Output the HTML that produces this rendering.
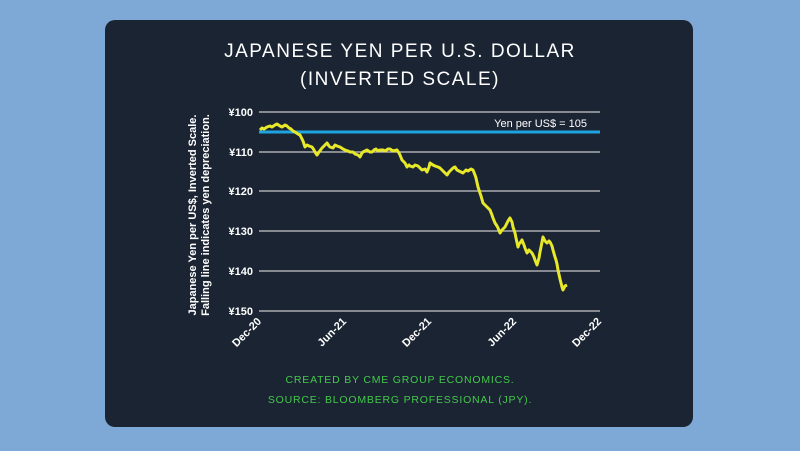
<!DOCTYPE html>
<html><head><style>
body{margin:0;width:800px;height:451px;background:#7ea8d6;overflow:hidden;font-family:"Liberation Sans",sans-serif}
.card{position:absolute;left:105px;top:20px;width:588px;height:407px;background:#1b2433;border-radius:10px}
</style></head><body>
<div class="card"></div>
<svg width="800" height="451" style="position:absolute;left:0;top:0">
<text x="400" y="57" fill="#fff" font-size="19" text-anchor="middle" letter-spacing="1.5">JAPANESE YEN PER U.S. DOLLAR</text>
<text x="400" y="85" fill="#fff" font-size="19" text-anchor="middle" letter-spacing="1.5">(INVERTED SCALE)</text>
<g stroke="#c8c8c8" stroke-width="1.2">
<line x1="259" y1="112" x2="600" y2="112"/><line x1="259" y1="152" x2="600" y2="152"/>
<line x1="259" y1="191" x2="600" y2="191"/><line x1="259" y1="231" x2="600" y2="231"/>
<line x1="259" y1="271" x2="600" y2="271"/><line x1="259" y1="311" x2="600" y2="311"/>
</g>
<line x1="259" y1="132" x2="600" y2="132" stroke="#1fa3e0" stroke-width="3"/>
<text x="587" y="127" fill="#fff" font-size="11" text-anchor="end">Yen per US$ = 105</text>
<g fill="#fff" font-size="11" font-weight="bold" text-anchor="end">
<text x="253" y="116">¥100</text><text x="253" y="156">¥110</text><text x="253" y="195">¥120</text>
<text x="253" y="235">¥130</text><text x="253" y="275">¥140</text><text x="253" y="315">¥150</text>
</g>
<g fill="#fff" font-size="11" font-weight="bold" text-anchor="end">
<text transform="translate(262,322) rotate(-45)">Dec-20</text>
<text transform="translate(347,322) rotate(-45)">Jun-21</text>
<text transform="translate(432,322) rotate(-45)">Dec-21</text>
<text transform="translate(517,322) rotate(-45)">Jun-22</text>
<text transform="translate(602,322) rotate(-45)">Dec-22</text>
</g>
<g fill="#fff" font-size="11" font-weight="bold" text-anchor="middle">
<text transform="translate(196,215) rotate(-90)">Japanese Yen per US$, Inverted Scale.</text>
<text transform="translate(209,215) rotate(-90)">Falling line indicates yen depreciation.</text>
</g>
<polyline fill="none" stroke="#e8e82a" stroke-width="3" stroke-linejoin="round" points="260,130 262,128 264,129 267,127 270,126 272,127 275,125 277,124 280,126 282,127 285,125 287,126 289,128 291,129 293,131 295,132 298,134 300,135 302,139 303,141 305,147 307,145 309,146 312,147 314,150 315,152 317,155 319,152 322,148 325,145 327,143 329,146 330,147 333,148 335,145 337,146 340,147 343,149 345,150 348,151 350,152 353,152 355,154 358,155 360,157 362,153 363,152 365,151 367,150 370,152 372,152 374,150 376,149 378,151 380,150 383,150 385,151 388,149 390,149 393,151 397,150 399,153 400,155 402,160 404,162 405,163 407,167 409,165 410,166 413,167 415,165 418,166 420,168 422,170 425,169 427,172 429,167 430,163 433,165 435,166 438,167 440,168 442,170 444,172 447,175 449,172 451,170 453,168 455,167 457,170 459,171 461,172 463,173 466,170 468,171 471,169 473,170 475,175 476,178 478,187 480,193 481,196 483,203 485,205 487,207 490,210 492,215 493,218 495,223 497,226 498,228 500,233 502,230 503,229 505,227 507,223 508,221 510,218 511,220 512,222 513,227 515,233 516,238 518,247 519,244 520,243 522,240 524,245 525,248 527,253 529,250 530,251 532,253 534,257 535,260 537,265 539,258 540,252 542,242 543,237 545,241 547,243 549,241 550,242 552,246 553,250 555,257 556,260 557,264 558,270 560,279 561,283 562,287 563,290 564,288 565,286 567,285"/>
<text x="400" y="383" fill="#43c94a" font-size="10.5" text-anchor="middle" letter-spacing="0.8">CREATED BY CME GROUP ECONOMICS.</text>
<text x="400" y="403" fill="#43c94a" font-size="10.5" text-anchor="middle" letter-spacing="0.8">SOURCE: BLOOMBERG PROFESSIONAL (JPY).</text>
</svg>
</body></html>
